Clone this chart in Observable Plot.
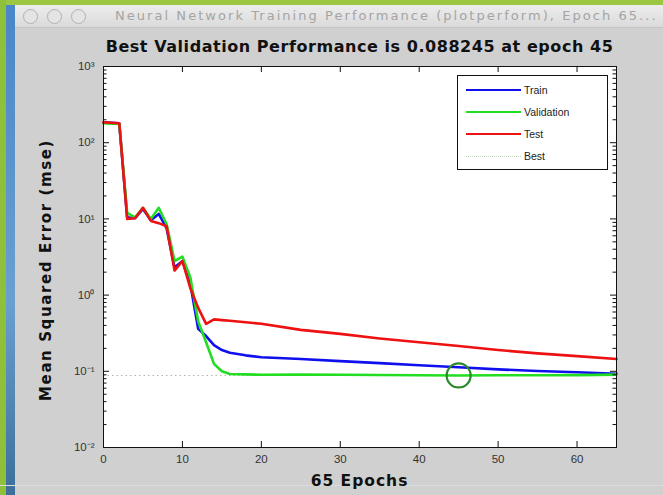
<!DOCTYPE html>
<html>
<head>
<meta charset="utf-8">
<script src="https://cdn.jsdelivr.net/npm/d3@7"></script>
<script src="https://cdn.jsdelivr.net/npm/@observablehq/plot@0.6"></script>
<style>
  html, body { margin: 0; padding: 0; }
  body { width: 663px; height: 495px; overflow: hidden; font-family: "Liberation Sans", Arial, sans-serif; }
  #win { position: relative; width: 663px; height: 495px; background: #d0d0d0; overflow: hidden; }
  .abs { position: absolute; }
  .bold { font-family: "DejaVu Sans", sans-serif; font-weight: bold; color: #111; white-space: nowrap; }
</style>
</head>
<body>
<div id="win">
  <div class="abs" style="left:0;top:0;width:663px;height:5px;background:#9cc743;"></div>
  <div class="abs" style="left:0;top:0;width:6px;height:495px;background:#8fc03c;"></div>
  <div class="abs" style="left:6px;top:5px;width:9px;height:490px;background:linear-gradient(#4a86c8,#6aa0d0 60%,#3d6f9a);"></div>
  <div class="abs" style="left:15px;top:5px;width:648px;height:22px;background:linear-gradient(#ededed,#dadada);"></div>
  <div class="abs" style="left:15px;top:27px;width:648px;height:1px;background:#c4c4c4;"></div>
  <div class="abs" style="left:23px;top:9px;width:13px;height:13px;border-radius:50%;border:1px solid #b0b0b0;background:#e4e4e4;"></div>
  <div class="abs" style="left:47px;top:9px;width:13px;height:13px;border-radius:50%;border:1px solid #b0b0b0;background:#e4e4e4;"></div>
  <div class="abs" style="left:71px;top:9px;width:13px;height:13px;border-radius:50%;border:1px solid #b0b0b0;background:#e4e4e4;"></div>
  <div class="abs" style="left:115px;top:8px;font-family:'DejaVu Sans',sans-serif;font-size:13px;letter-spacing:2.05px;color:#a4a4a4;white-space:nowrap;">Neural Network Training Performance (plotperform), Epoch 65...</div>
  <div class="abs" style="left:0;top:485px;width:663px;height:1px;background:#dcdcdc;"></div>
  <div id="chart" class="abs" style="left:0;top:0;"></div>
  <div id="title" class="abs bold" style="left:103px;width:513px;top:37px;text-align:center;font-size:16px;letter-spacing:0.55px;"></div>
  <div id="xlabel" class="abs bold" style="left:103px;width:513px;top:472px;text-align:center;font-size:15.5px;letter-spacing:1px;"></div>
  <div id="ylabel" class="abs bold" style="left:46px;top:270px;transform:translate(-50%,-50%) rotate(-90deg);font-size:15px;letter-spacing:1.6px;"></div>
  <div id="legend" class="abs" style="left:457px;top:75px;width:149px;height:93px;background:white;border:1px solid #111;"></div>
</div>
<script>
// ---- data ----
const epochs     = [0, 1, 2, 3, 4, 5, 6, 7, 8, 9, 10, 11, 12, 13, 14, 15, 16, 18, 20, 25, 30, 35, 40, 45, 50, 55, 60, 65];
const train      = [185, 183, 180, 10.5, 10.2, 13.5, 9.6, 11.6, 7.5, 2.3, 2.8, 1.4, 0.36, 0.29, 0.22, 0.19, 0.175, 0.162, 0.153, 0.145, 0.136, 0.128, 0.120, 0.113, 0.106, 0.101, 0.097, 0.093];
const validation = [180, 178, 176, 12, 10.5, 14, 10, 14, 8.5, 2.8, 3.2, 1.7, 0.45, 0.24, 0.125, 0.1, 0.092, 0.091, 0.090, 0.0905, 0.0900, 0.0893, 0.0888, 0.088245, 0.0886, 0.0888, 0.0890, 0.0905];
const test       = [185, 183, 180, 10, 10.2, 14, 9.4, 8.8, 8, 2.1, 2.8, 1.23, 0.68, 0.42, 0.48, 0.47, 0.46, 0.44, 0.42, 0.35, 0.31, 0.27, 0.24, 0.215, 0.19, 0.172, 0.158, 0.145];
const bestEpoch = 45;
const bestPerf = 0.088245;
const totalEpochs = 65;
const seriesNames = ["Train", "Validation", "Test", "Best"];
const seriesColors = ["#1010ee", "#22dd22", "#ee1111", "#2a8a2a"];
const yDecades = [0.01, 0.1, 1, 10, 100, 1000];
const yTickLabels = ["10\u207B\u00B2", "10\u207B\u00B9", "10\u2070", "10\u00B9", "10\u00B2", "10\u00B3"];
const xTicks = [0, 10, 20, 30, 40, 50, 60];
const titleText = "Best Validation Performance is 0.088245 at epoch 45";
const xLabelText = "65 Epochs";
const yLabelText = "Mean Squared Error  (mse)";

// ---- build ----
const rows = (vals) => epochs.map((e, i) => ({e, v: vals[i]}));
const minorTicks = [];
yDecades.slice(0, -1).forEach(d => { for (let k = 2; k <= 9; k++) minorTicks.push(d * k); });

const W = 663, H = 495, mL = 103, mR = 47, mT = 66, mB = 48;
const pw = W - mL - mR, ph = H - mT - mB;

const chart = Plot.plot({
  width: W, height: H,
  marginLeft: mL, marginRight: mR, marginTop: mT, marginBottom: mB,
  style: {background: "transparent", fontFamily: "Liberation Sans, Arial, sans-serif"},
  x: {domain: [0, totalEpochs]},
  y: {type: "log", domain: [yDecades[0], yDecades[yDecades.length - 1]]},
  marks: [
    Plot.frame({fill: "white", stroke: "none"}),
    Plot.ruleY([bestPerf], {stroke: "#6a8a6a", strokeOpacity: 0.6, strokeDasharray: "1.5,3", strokeWidth: 1}),
    Plot.line(rows(train), {x: "e", y: "v", stroke: seriesColors[0], strokeWidth: 2.6}),
    Plot.line(rows(validation), {x: "e", y: "v", stroke: seriesColors[1], strokeWidth: 2.6}),
    Plot.line(rows(test), {x: "e", y: "v", stroke: seriesColors[2], strokeWidth: 2.6}),
    Plot.dot([{e: bestEpoch, v: bestPerf}], {x: "e", y: "v", r: 12, stroke: seriesColors[3], strokeWidth: 2.2, fill: "none"}),
    // inward tick marks (MATLAB style)
    Plot.tickY(yDecades, {y: d => d, insetRight: pw - 6, stroke: "#111"}),
    Plot.tickY(yDecades, {y: d => d, insetLeft: pw - 6, stroke: "#111"}),
    Plot.tickY(minorTicks, {y: d => d, insetRight: pw - 3.5, stroke: "#111"}),
    Plot.tickY(minorTicks, {y: d => d, insetLeft: pw - 3.5, stroke: "#111"}),
    Plot.tickX(xTicks, {x: d => d, insetTop: ph - 6, stroke: "#111"}),
    Plot.tickX(xTicks, {x: d => d, insetBottom: ph - 6, stroke: "#111"}),
    Plot.axisY({ticks: yDecades, tickSize: 0, tickPadding: 9, fontSize: 11.5, tickFormat: d => yTickLabels[yDecades.indexOf(d)], label: null, color: "#333"}),
    Plot.axisX({ticks: xTicks, tickSize: 0, tickPadding: 7, fontSize: 11.5, tickFormat: d => String(d), label: null, color: "#333"}),
    Plot.frame({stroke: "#111", strokeWidth: 1})
  ]
});
document.getElementById("chart").appendChild(chart);
document.getElementById("title").textContent = titleText;
document.getElementById("xlabel").textContent = xLabelText;
document.getElementById("ylabel").textContent = yLabelText;

// legend
const leg = document.getElementById("legend");
seriesNames.forEach((name, i) => {
  const row = document.createElement("div");
  row.className = "abs";
  row.style.cssText = `left:8px;top:${6 + i * 22}px;height:16px;display:flex;align-items:center;font-size:10.5px;color:#222;`;
  const sw = document.createElement("div");
  sw.style.cssText = i < 3
    ? `width:55px;height:0;border-top:2.4px solid ${seriesColors[i]};margin-right:3px;`
    : `width:55px;height:0;border-top:1px dotted rgba(42,138,42,0.3);margin-right:3px;`;
  const tx = document.createElement("span");
  tx.textContent = name;
  row.appendChild(sw); row.appendChild(tx);
  leg.appendChild(row);
});
</script>
</body>
</html>
